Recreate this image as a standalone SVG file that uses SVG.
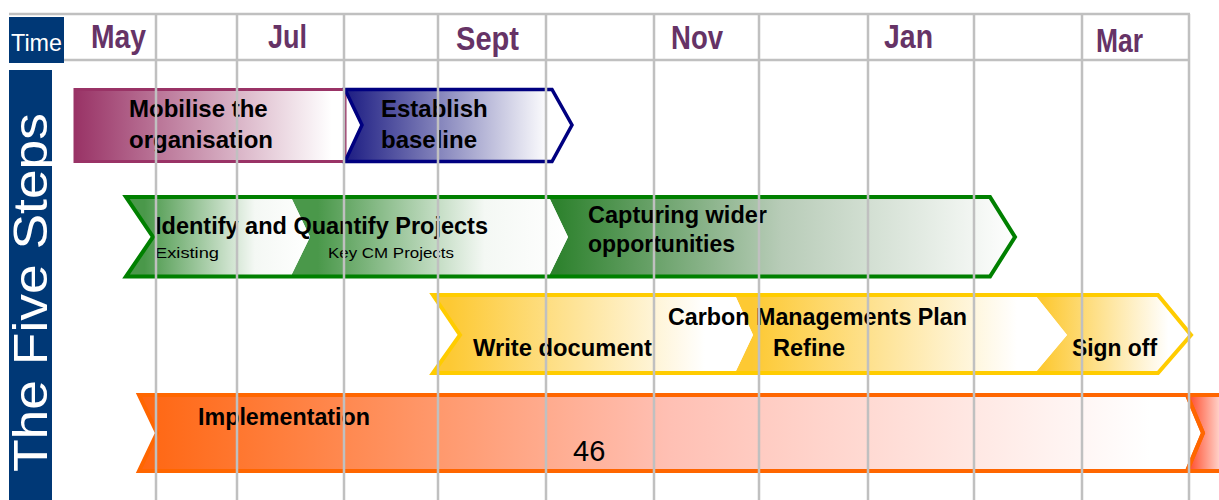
<svg xmlns="http://www.w3.org/2000/svg" width="1219" height="500" viewBox="0 0 1219 500">
<style>
.lbl{font-family:"Liberation Sans",Arial,sans-serif;font-weight:bold;fill:#000;font-size:24px}
.sm{font-family:"Liberation Sans",Arial,sans-serif;fill:#000;font-size:15px}
.mon{font-family:"Liberation Sans",Arial,sans-serif;font-weight:bold;fill:#663366;font-size:34px}
.grid{stroke:#c0c0c0;stroke-width:2.5;fill:none}
</style>
<defs>
<linearGradient id="gPur" x1="0" x2="1" y1="0" y2="0"><stop offset="0" stop-color="#993366"/><stop offset="0.95" stop-color="#ffffff"/></linearGradient>
<linearGradient id="gBlu" x1="0" x2="1" y1="0" y2="0"><stop offset="0" stop-color="#1c1c82"/><stop offset="0.9" stop-color="#ffffff"/></linearGradient>
<linearGradient id="gGrnA" x1="0" x2="1" y1="0" y2="0"><stop offset="0.1" stop-color="#4a984a"/><stop offset="0.7" stop-color="#f4f8f4"/><stop offset="1" stop-color="#ffffff"/></linearGradient>
<linearGradient id="gGrnC" x1="0" x2="1" y1="0" y2="0"><stop offset="0.02" stop-color="#2e822e"/><stop offset="0.5" stop-color="#b8ccb8"/><stop offset="1" stop-color="#ffffff"/></linearGradient>
<linearGradient id="gYel" x1="0" x2="1" y1="0" y2="0"><stop offset="0.05" stop-color="#fdc933"/><stop offset="0.85" stop-color="#ffffff"/></linearGradient>
<linearGradient id="gOra" x1="0" x2="1" y1="0" y2="0"><stop offset="0" stop-color="#ff6611"/><stop offset="0.5" stop-color="#ffc0b4"/><stop offset="0.95" stop-color="#ffffff"/></linearGradient>
<linearGradient id="gOra2" x1="0" x2="1" y1="0" y2="0"><stop offset="0" stop-color="#ff4422"/><stop offset="1" stop-color="#ffffff"/></linearGradient>
</defs>

<g id="time-box">
<rect x="9" y="17" width="55" height="46" fill="#003876"/>
<text x="11" y="51" font-family="'Liberation Sans',Arial,sans-serif" font-size="24" fill="#ffffff" textLength="51" lengthAdjust="spacingAndGlyphs">Time</text>
</g>
<g id="five-steps">
<rect x="9" y="70" width="43" height="430" fill="#003876"/>
<text transform="translate(47,472) rotate(-90)" font-family="'Liberation Sans',Arial,sans-serif" font-size="49" fill="#ffffff" textLength="359" lengthAdjust="spacingAndGlyphs">The Five Steps</text>
</g>

<g id="step1-mobilise">
<rect x="75" y="89.5" width="270" height="72" fill="url(#gPur)" stroke="#993366" stroke-width="3"/>
<text class="lbl" x="129" y="117">Mobilise the</text>
<text class="lbl" x="129" y="148">organisation</text>
</g>
<g id="step1-baseline">
<polygon points="345,89.5 552,89.5 572,125 552,161.5 345,161.5 362,125" fill="url(#gBlu)" stroke="#000080" stroke-width="3.5"/>
<text class="lbl" x="381" y="117">Establish</text>
<text class="lbl" x="381" y="148">baseline</text>
</g>

<g id="step2-identify">
<polygon points="548,195 990,195 1016,237 990,278 548,278 568,237" fill="url(#gGrnC)"/>
<polygon points="290,195 548,195 568,237 548,278 290,278 310,237" fill="url(#gGrnA)"/>
<polygon points="126,195 290,195 310,237 290,278 126,278 153,237" fill="url(#gGrnA)"/>
<polygon points="126,197 990,197 1015,237 990,276.5 126,276.5 153,237" fill="none" stroke="#008000" stroke-width="4"/>
<text class="lbl" x="155" y="234" font-size="27" textLength="333" lengthAdjust="spacingAndGlyphs">Identify and Quantify Projects</text>
<text class="sm" x="155" y="258" textLength="64" lengthAdjust="spacingAndGlyphs">Existing</text>
<text class="sm" x="328" y="258" textLength="126" lengthAdjust="spacingAndGlyphs">Key CM Projects</text>
</g>
<g id="step2-capturing">
<text class="lbl" x="588" y="223" textLength="179" lengthAdjust="spacingAndGlyphs">Capturing wider</text>
<text class="lbl" x="588" y="252" textLength="147" lengthAdjust="spacingAndGlyphs">opportunities</text>
</g>

<g id="step3-plan">
<polygon points="1035,295 1158,295 1192,335 1158,373 1035,373 1067,335" fill="url(#gYel)"/>
<polygon points="735,295 1035,295 1067,335 1035,373 735,373 753,335" fill="url(#gYel)"/>
<polygon points="433,295 735,295 753,335 735,373 433,373 460,335" fill="url(#gYel)"/>
<polygon points="433,295 1158,295 1191,335 1158,373 433,373 460,335" fill="none" stroke="#ffcc00" stroke-width="4"/>
<text class="lbl" x="668" y="325" textLength="299" lengthAdjust="spacingAndGlyphs">Carbon Managements Plan</text>
<text class="lbl" x="473" y="356" textLength="179" lengthAdjust="spacingAndGlyphs">Write document</text>
<text class="lbl" x="773" y="356" textLength="72" lengthAdjust="spacingAndGlyphs">Refine</text>
<text class="lbl" x="1072" y="356" textLength="85" lengthAdjust="spacingAndGlyphs">Sign off</text>
</g>

<g id="step4-implementation">
<polygon points="139,395 1187,395 1203,433 1187,471 139,471 157,433" fill="url(#gOra)"/>
<polygon points="1187,395 1230,395 1230,471 1187,471 1203,433" fill="url(#gOra2)"/>
<polygon points="139,395 1187,395 1203,433 1187,471 139,471 157,433" fill="none" stroke="#ff6600" stroke-width="4"/>
<polygon points="1187,395 1230,395 1230,471 1187,471 1203,433" fill="none" stroke="#ff6600" stroke-width="4"/>
<text class="lbl" x="198" y="425" textLength="172" lengthAdjust="spacingAndGlyphs">Implementation</text>
<text x="573" y="461" font-family="'Liberation Sans',Arial,sans-serif" font-size="29" fill="#000">46</text>
</g>

<g id="grid">
<line class="grid" x1="9" y1="14" x2="1190" y2="14"/>
<line class="grid" x1="64" y1="60" x2="1190" y2="60"/>
<line class="grid" x1="156" y1="14" x2="156" y2="500"/>
<line class="grid" x1="237" y1="14" x2="237" y2="500"/>
<line class="grid" x1="344" y1="14" x2="344" y2="500"/>
<line class="grid" x1="438" y1="14" x2="438" y2="500"/>
<line class="grid" x1="546" y1="14" x2="546" y2="500"/>
<line class="grid" x1="654" y1="14" x2="654" y2="500"/>
<line class="grid" x1="759" y1="14" x2="759" y2="500"/>
<line class="grid" x1="868" y1="14" x2="868" y2="500"/>
<line class="grid" x1="974" y1="14" x2="974" y2="500"/>
<line class="grid" x1="1082" y1="14" x2="1082" y2="500"/>
<line class="grid" x1="1189" y1="14" x2="1189" y2="500"/>
</g>

<g id="months">
<text class="mon" x="91" y="48" textLength="55" lengthAdjust="spacingAndGlyphs">May</text>
<text class="mon" x="268" y="48" textLength="39" lengthAdjust="spacingAndGlyphs">Jul</text>
<text class="mon" x="456" y="50" textLength="63" lengthAdjust="spacingAndGlyphs">Sept</text>
<text class="mon" x="671" y="49" textLength="52" lengthAdjust="spacingAndGlyphs">Nov</text>
<text class="mon" x="884" y="48" textLength="49" lengthAdjust="spacingAndGlyphs">Jan</text>
<text class="mon" x="1096" y="52" textLength="47" lengthAdjust="spacingAndGlyphs">Mar</text>
</g>
</svg>
